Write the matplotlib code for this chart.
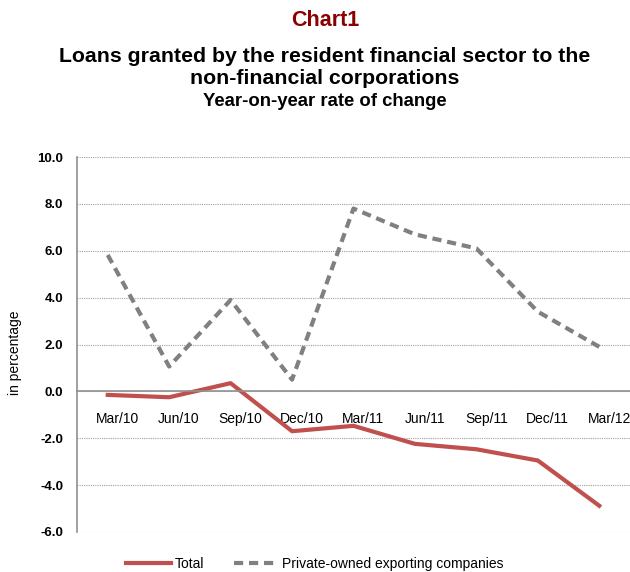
import matplotlib.pyplot as plt

plt.rcParams['font.family'] = ['Liberation Sans', 'DejaVu Sans']

# data
quarters = ['Mar/10', 'Jun/10', 'Sep/10', 'Dec/10', 'Mar/11', 'Jun/11', 'Sep/11', 'Dec/11', 'Mar/12']
total = [-0.15, -0.25, 0.35, -1.70, -1.47, -2.24, -2.47, -2.95, -4.88]
private_exp = [5.82, 1.06, 3.90, 0.50, 7.80, 6.70, 6.10, 3.40, 1.90]
y_ticks = [-6, -4, -2, 0, 2, 4, 6, 8, 10]

fig = plt.figure(figsize=(6.3, 5.72), dpi=100)
ax = fig.add_axes([77 / 630, 1 - 532 / 572, 553 / 630, 375 / 572])

x = list(range(len(quarters)))
ax.plot(x, total, color='#c0504d', lw=3, label='Total')
ax.plot(x, private_exp, color='#808080', lw=3, ls=(0, (2.2, 1.4)),
        label='Private-owned exporting companies')

ax.set_xlim(-0.5, len(quarters) - 0.5)
ax.set_ylim(-6, 10)
ax.set_yticks(y_ticks)
ax.set_yticklabels(['%.1f' % v for v in y_ticks], fontweight='bold', fontsize=9.5)
# category labels sit a bit right of the data points, as in the original
ax.set_xticks([i + 0.16 for i in x])
ax.set_xticklabels(quarters, fontweight='bold', fontsize=10)
ax.tick_params(axis='x', length=0, pad=15)
ax.tick_params(axis='y', length=0, pad=10)

ax.grid(axis='y', color='#a0a0a0', ls=(0, (1, 1)), lw=0.8)
ax.set_axisbelow(True)
for s in ['top', 'right']:
    ax.spines[s].set_visible(False)
ax.spines['bottom'].set_position(('data', 0))
ax.spines['bottom'].set_color('#909090')
ax.spines['left'].set_color('#909090')
ax.spines['bottom'].set_linewidth(1.2)
ax.spines['left'].set_linewidth(1.2)

ax.set_ylabel('in percentage', fontsize=10)
ax.yaxis.set_label_coords(-55 / 553, 0.477)

cx = 325 / 630
fig.text(cx, 1 - 20 / 572, 'Chart1', ha='center', va='center',
         fontsize=15.5, fontweight='bold', color='#8b0000')
fig.text(cx, 1 - 57 / 572, 'Loans granted by the resident financial sector to the',
         ha='center', va='center', fontsize=15.35, fontweight='bold')
fig.text(cx, 1 - 79 / 572, 'non-financial corporations',
         ha='center', va='center', fontsize=15.35, fontweight='bold')
fig.text(cx, 1 - 102 / 572, 'Year-on-year rate of change',
         ha='center', va='center', fontsize=13.3, fontweight='bold')

fig.legend(loc='center', bbox_to_anchor=(0.5, 1 - 564 / 572), ncol=2, frameon=False,
           prop={'size': 10}, handlelength=3.2,
           columnspacing=2.1, handletextpad=0.3)

fig.savefig('out.png', dpi=100)
